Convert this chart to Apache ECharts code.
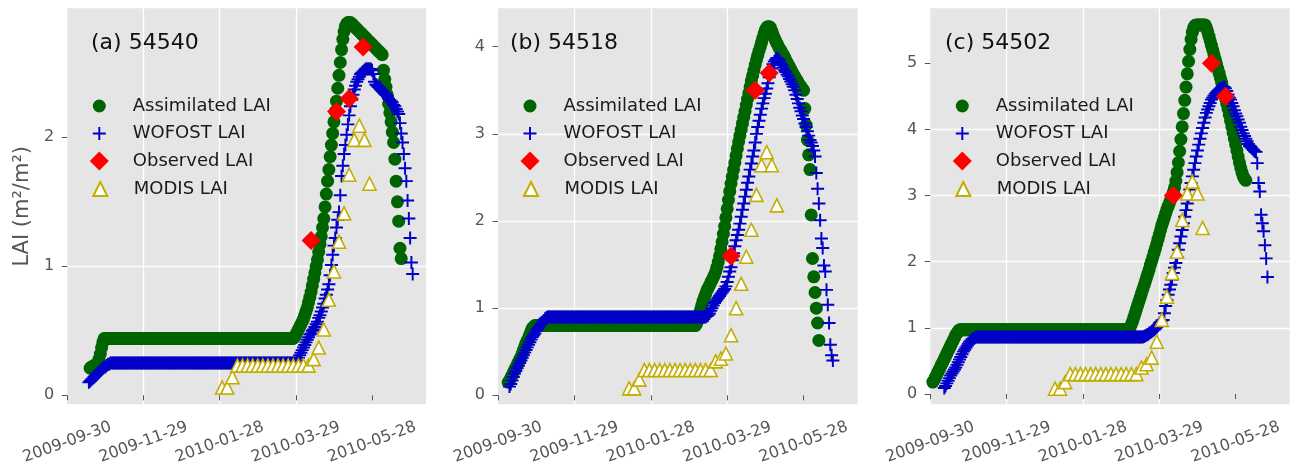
<!DOCTYPE html>
<html>
<head>
<meta charset="utf-8">
<title>LAI at three stations</title>
<script src="https://cdn.jsdelivr.net/npm/echarts@6/dist/echarts.min.js"></script>
<style>
  html, body { margin: 0; padding: 0; background: #ffffff; }
  #chart { width: 1295px; height: 467px; }
</style>
</head>
<body>
<div id="chart"></div>
<script>
// x positions are days counted from the first tick date
const X_ORIGIN = '2009-09-30';
const xTickLabels = ['2009-09-30', '2009-11-29', '2010-01-28', '2010-03-29', '2010-05-28'];
const X_MAX_DAY = 282.5;

const seriesNames = ['Assimilated LAI', 'WOFOST LAI', 'Observed LAI', 'MODIS LAI'];
const panelTitles = ['(a) 54540', '(b) 54518', '(c) 54502'];
const yTickValues = [[0, 1, 2], [0, 1, 2, 3, 4], [0, 1, 2, 3, 4, 5]];
const yExtents = [[-0.07, 3.0], [-0.103, 4.441], [-0.156, 5.831]];
const MODIS_STEP_DAYS = 4;

// ---- station 54540 ----
const a_assimStart = '2009-10-18';
const a_assim = [
  0.21,0.22,0.22,0.23,0.23,0.24,0.25,0.28,0.32,0.37,0.41,0.44,
  0.44,0.44,0.44,0.44,0.44,0.44,0.44,0.44,0.44,0.44,
  0.44,0.44,0.44,0.44,0.44,0.44,0.44,0.44,0.44,0.44,
  0.44,0.44,0.44,0.44,0.44,0.44,0.44,0.44,0.44,0.44,
  0.44,0.44,0.44,0.44,0.44,0.44,0.44,0.44,0.44,0.44,
  0.44,0.44,0.44,0.44,0.44,0.44,0.44,0.44,0.44,0.44,
  0.44,0.44,0.44,0.44,0.44,0.44,0.44,0.44,0.44,0.44,
  0.44,0.44,0.44,0.44,0.44,0.44,0.44,0.44,0.44,0.44,
  0.44,0.44,0.44,0.44,0.44,0.44,0.44,0.44,0.44,0.44,
  0.44,0.44,0.44,0.44,0.44,0.44,0.44,0.44,0.44,0.44,
  0.44,0.44,0.44,0.44,0.44,0.44,0.44,0.44,0.44,0.44,
  0.44,0.44,0.44,0.44,0.44,0.44,0.44,0.44,0.44,0.44,
  0.44,0.44,0.44,0.44,0.44,0.44,0.44,0.44,0.44,0.44,
  0.44,0.44,0.44,0.44,0.44,0.44,0.44,0.44,0.44,0.44,
  0.44,0.44,0.44,0.44,0.44,0.44,0.44,0.44,0.44,0.44,
  0.44,0.44,0.44,0.44,0.44,0.44,0.44,0.44,
  0.44,0.45,0.47,0.49,0.51,0.53,0.55,0.57,0.59,0.62,
  0.65,0.68,0.72,0.76,0.80,0.85,0.90,0.95,1.00,1.05,
  1.11,1.17,1.23,1.30,1.37,1.46,1.56,1.66,1.75,1.85,
  1.94,2.03,2.12,2.20,2.28,2.38,2.48,2.58,2.68,2.76,
  2.82,2.86,2.88,2.89,2.89,2.89,2.88,2.87,2.86,
  2.85,2.84,2.83,2.82,2.81,2.80,2.79,2.78,2.77,2.76,
  2.75,2.74,2.73,2.72,2.71,2.70,2.69,2.68,2.67,2.66,
  2.65,2.64,
  2.52,2.45,2.39,2.33,2.26,2.19,2.12,2.04,1.96,1.83,1.66,1.50,1.35,1.14,1.06
];
const a_wofostStart = '2009-10-17';
const a_wofost = [
  0.10,0.11,0.12,0.13,0.14,0.15,0.16,0.17,0.18,0.19,
  0.20,0.21,0.22,0.22,0.23,0.24,0.24,0.25,
  0.25,0.25,0.25,0.25,0.25,0.25,0.25,0.25,0.25,0.25,
  0.25,0.25,0.25,0.25,0.25,0.25,0.25,0.25,0.25,0.25,
  0.25,0.25,0.25,0.25,0.25,0.25,0.25,0.25,0.25,0.25,
  0.25,0.25,0.25,0.25,0.25,0.25,0.25,0.25,0.25,0.25,
  0.25,0.25,0.25,0.25,0.25,0.25,0.25,0.25,0.25,0.25,
  0.25,0.25,0.25,0.25,0.25,0.25,0.25,0.25,0.25,0.25,
  0.25,0.25,0.25,0.25,0.25,0.25,0.25,0.25,0.25,0.25,
  0.25,0.25,0.25,0.25,0.25,0.25,0.25,0.25,0.25,0.25,
  0.25,0.25,0.25,0.25,0.25,0.25,0.25,0.25,0.25,0.25,
  0.25,0.25,0.25,0.25,0.25,0.25,0.25,0.25,0.25,0.25,
  0.25,0.25,0.25,0.25,0.25,0.25,0.25,0.25,0.25,0.25,
  0.25,0.25,0.25,0.25,0.25,0.25,0.25,0.25,0.25,0.25,
  0.25,0.25,0.25,0.25,0.25,0.25,0.25,0.25,0.25,0.25,
  0.25,0.25,0.25,0.25,0.25,0.25,0.25,0.25,0.25,0.25,
  0.25,0.25,0.25,0.25,0.25,
  0.25,0.27,0.29,0.31,0.33,0.35,0.37,0.39,0.41,0.43,
  0.45,0.47,0.48,0.50,0.51,0.53,0.55,0.57,0.60,0.62,
  0.65,0.68,0.71,0.75,0.78,0.82,0.86,0.93,1.01,1.09,
  1.16,1.22,1.30,1.36,1.42,1.55,1.70,1.78,1.87,1.94,
  2.02,2.10,2.17,2.24,2.29,2.33,2.37,2.40,2.43,2.45,
  2.47,2.49,2.50,2.51,2.52,2.53,2.53,2.53,2.53,2.53,
  2.52,2.49,
  2.43,2.41,2.40,2.39,2.38,2.37,2.36,2.35,2.34,2.33,
  2.32,2.30,2.29,2.28,2.27,2.25,2.24,2.22,2.20,2.18,
  2.11,2.03,1.96,1.87,1.76,1.66,1.51,1.37,1.22,1.03,0.94
];
const a_obsDates = ['2010-04-10', '2010-04-30', '2010-05-10', '2010-05-21'];
const a_obs = [1.2, 2.2, 2.3, 2.7];
const a_modisStart = '2010-01-30';
const a_modis = [
  0.06,0.06,0.14,
  0.23,0.23,0.23,0.23,0.23,0.23,0.23,0.23,0.23,0.23,0.23,0.23,0.23,0.23,
  0.23,0.28,0.37,0.51,0.74,0.96,1.19,1.41,1.71,1.98,2.09,1.98,1.64
];

// ---- station 54518 ----
const b_assimStart = '2009-10-08';
const b_assim = [
  0.15,0.17,0.20,0.23,0.26,0.29,0.32,0.35,0.38,0.41,
  0.44,0.48,0.52,0.56,0.60,0.63,0.66,0.70,0.74,0.77,
  0.79,0.80,
  0.80,0.80,0.80,0.80,0.80,0.80,0.80,0.80,0.80,0.80,
  0.80,0.80,0.80,0.80,0.80,0.80,0.80,0.80,0.80,0.80,
  0.80,0.80,0.80,0.80,0.80,0.80,0.80,0.80,0.80,0.80,
  0.80,0.80,0.80,0.80,0.80,0.80,0.80,0.80,0.80,0.80,
  0.80,0.80,0.80,0.80,0.80,0.80,0.80,0.80,0.80,0.80,
  0.80,0.80,0.80,0.80,0.80,0.80,0.80,0.80,0.80,0.80,
  0.80,0.80,0.80,0.80,0.80,0.80,0.80,0.80,0.80,0.80,
  0.80,0.80,0.80,0.80,0.80,0.80,0.80,0.80,0.80,0.80,
  0.80,0.80,0.80,0.80,0.80,0.80,0.80,0.80,0.80,0.80,
  0.80,0.80,0.80,0.80,0.80,0.80,0.80,0.80,0.80,0.80,
  0.80,0.80,0.80,0.80,0.80,0.80,0.80,0.80,0.80,0.80,
  0.80,0.80,0.80,0.80,0.80,0.80,0.80,0.80,0.80,0.80,
  0.80,0.80,0.80,0.80,0.80,0.80,
  0.82,0.86,0.92,0.98,1.03,1.08,1.12,1.16,1.20,1.23,
  1.26,1.29,1.32,1.35,1.38,1.42,1.47,1.53,1.60,1.68,
  1.76,1.85,1.94,2.04,2.14,2.24,2.34,2.43,2.51,2.59,
  2.67,2.75,2.83,2.91,2.98,3.05,3.12,3.19,3.26,3.33,
  3.40,3.47,3.54,3.61,3.67,3.73,3.79,3.85,3.90,3.95,
  4.00,4.05,4.10,4.15,4.19,4.22,4.23,4.23,4.22,4.18,
  4.14,4.10,4.07,4.04,4.01,3.98,3.96,3.93,3.91,3.88,
  3.85,3.82,3.79,3.77,3.74,3.71,3.68,3.66,3.63,3.61,
  3.58,3.56,3.54,3.52,3.50,3.29,3.10,2.93,2.76,2.59,
  2.07,1.57,1.36,1.18,1.00,0.83,0.63
];
const b_wofostStart = '2009-10-09';
const b_wofost = [
  0.10,0.13,0.17,0.21,0.25,0.28,0.31,0.34,0.37,0.40,
  0.43,0.46,0.49,0.52,0.55,0.58,0.61,0.64,0.67,0.69,
  0.71,0.74,0.76,0.78,0.80,0.82,0.84,0.86,0.88,0.89,
  0.90,
  0.90,0.90,0.90,0.90,0.90,0.90,0.90,0.90,0.90,0.90,
  0.90,0.90,0.90,0.90,0.90,0.90,0.90,0.90,0.90,0.90,
  0.90,0.90,0.90,0.90,0.90,0.90,0.90,0.90,0.90,0.90,
  0.90,0.90,0.90,0.90,0.90,0.90,0.90,0.90,0.90,0.90,
  0.90,0.90,0.90,0.90,0.90,0.90,0.90,0.90,0.90,0.90,
  0.90,0.90,0.90,0.90,0.90,0.90,0.90,0.90,0.90,0.90,
  0.90,0.90,0.90,0.90,0.90,0.90,0.90,0.90,0.90,0.90,
  0.90,0.90,0.90,0.90,0.90,0.90,0.90,0.90,0.90,0.90,
  0.90,0.90,0.90,0.90,0.90,0.90,0.90,0.90,0.90,0.90,
  0.90,0.90,0.90,0.90,0.90,0.90,0.90,0.90,0.90,0.90,
  0.90,0.90,0.90,0.90,0.90,0.90,0.90,0.90,0.90,0.90,
  0.90,0.90,0.90,0.90,0.90,0.90,0.90,0.90,0.90,0.90,
  0.90,0.90,0.90,0.90,
  0.91,0.92,0.94,0.97,1.00,1.03,1.06,1.08,1.10,1.12,
  1.14,1.16,1.18,1.20,1.22,1.25,1.30,1.36,1.42,1.47,
  1.55,1.63,1.71,1.78,1.84,1.90,1.97,2.05,2.13,2.20,
  2.28,2.36,2.44,2.51,2.59,2.66,2.74,2.81,2.90,3.00,
  3.08,3.15,3.22,3.29,3.35,3.41,3.46,3.52,3.58,3.65,
  3.70,3.75,3.80,3.83,3.85,3.87,3.86,3.84,3.81,3.79,
  3.76,3.73,3.71,3.68,3.66,3.63,3.60,3.57,3.54,3.50,
  3.45,3.40,3.35,3.30,3.26,3.21,3.17,3.12,3.08,3.03,
  2.98,2.93,2.90,2.86,2.81,2.74,2.55,2.37,2.20,2.01,
  1.80,1.69,1.49,1.42,1.21,1.04,0.83,0.58,0.46,0.40
];
const b_obsDates = ['2010-04-01', '2010-04-20', '2010-05-01'];
const b_obs = [1.6, 3.5, 3.7];
const b_modisStart = '2010-01-11';
const b_modis = [
  0.08,0.08,0.18,
  0.29,0.29,0.29,0.29,0.29,0.29,0.29,0.29,0.29,0.29,0.29,0.29,0.29,0.29,
  0.39,0.42,0.48,0.69,1.00,1.28,1.59,1.90,2.30,2.64,2.79,2.64,2.18
];

// ---- station 54502 ----
const c_assimStart = '2009-10-02';
const c_assim = [
  0.18,0.21,0.25,0.29,0.33,0.37,0.41,0.45,0.49,0.53,
  0.57,0.61,0.65,0.69,0.73,0.77,0.81,0.85,0.89,0.92,
  0.95,0.97,
  0.97,0.97,0.97,0.97,0.97,0.97,0.97,0.97,0.97,0.97,
  0.97,0.97,0.97,0.97,0.97,0.97,0.97,0.97,0.97,0.97,
  0.97,0.97,0.97,0.97,0.97,0.97,0.97,0.97,0.97,0.97,
  0.97,0.97,0.97,0.97,0.97,0.97,0.97,0.97,0.97,0.97,
  0.97,0.97,0.97,0.97,0.97,0.97,0.97,0.97,0.97,0.97,
  0.97,0.97,0.97,0.97,0.97,0.97,0.97,0.97,0.97,0.97,
  0.97,0.97,0.97,0.97,0.97,0.97,0.97,0.97,0.97,0.97,
  0.97,0.97,0.97,0.97,0.97,0.97,0.97,0.97,0.97,0.97,
  0.97,0.97,0.97,0.97,0.97,0.97,0.97,0.97,0.97,0.97,
  0.97,0.97,0.97,0.97,0.97,0.97,0.97,0.97,0.97,0.97,
  0.97,0.97,0.97,0.97,0.97,0.97,0.97,0.97,0.97,0.97,
  0.97,0.97,0.97,0.97,0.97,0.97,0.97,0.97,0.97,0.97,
  0.97,0.97,0.97,0.97,0.97,0.97,0.97,0.97,0.97,0.97,
  0.97,0.97,0.97,
  1.00,1.05,1.10,1.16,1.22,1.28,1.34,1.40,1.46,1.52,
  1.58,1.64,1.70,1.76,1.82,1.88,1.95,2.01,2.07,2.14,
  2.20,2.27,2.34,2.41,2.48,2.55,2.61,2.67,2.73,2.79,
  2.84,2.89,2.94,2.99,3.05,3.12,3.22,3.35,3.50,3.67,
  3.85,4.04,4.24,4.44,4.64,4.84,5.03,5.21,5.36,5.47,
  5.54,5.57,5.58,5.58,5.58,5.58,5.58,5.58,5.58,5.58,
  5.54,5.48,5.41,5.34,5.27,5.20,5.13,5.06,4.99,4.92,
  4.85,4.78,4.71,4.63,4.55,4.47,4.39,4.31,4.22,4.13,
  4.04,3.95,3.86,3.77,3.68,3.59,3.50,3.42,3.35,3.29,
  3.25,3.23
];
const c_wofostStart = '2009-10-11';
const c_wofost = [
  0.09,0.12,0.16,0.20,0.24,0.28,0.31,0.34,0.37,0.40,
  0.44,0.48,0.52,0.56,0.60,0.64,0.67,0.70,0.73,0.76,
  0.79,0.81,0.83,0.84,0.85,0.86,
  0.86,0.86,0.86,0.86,0.86,0.86,0.86,0.86,0.86,0.86,
  0.86,0.86,0.86,0.86,0.86,0.86,0.86,0.86,0.86,0.86,
  0.86,0.86,0.86,0.86,0.86,0.86,0.86,0.86,0.86,0.86,
  0.86,0.86,0.86,0.86,0.86,0.86,0.86,0.86,0.86,0.86,
  0.86,0.86,0.86,0.86,0.86,0.86,0.86,0.86,0.86,0.86,
  0.86,0.86,0.86,0.86,0.86,0.86,0.86,0.86,0.86,0.86,
  0.86,0.86,0.86,0.86,0.86,0.86,0.86,0.86,0.86,0.86,
  0.86,0.86,0.86,0.86,0.86,0.86,0.86,0.86,0.86,0.86,
  0.86,0.86,0.86,0.86,0.86,0.86,0.86,0.86,0.86,0.86,
  0.86,0.86,0.86,0.86,0.86,0.86,0.86,0.86,0.86,0.86,
  0.86,0.86,0.86,0.86,0.86,0.86,0.86,0.86,0.86,0.86,
  0.86,0.86,0.86,0.86,0.86,0.86,0.86,0.86,0.86,0.86,
  0.86,0.86,0.86,0.86,0.86,0.86,0.86,0.86,0.86,0.86,
  0.86,
  0.87,0.88,0.89,0.90,0.92,0.93,0.94,0.96,0.97,0.99,
  1.01,1.04,1.07,1.09,1.11,1.12,1.22,1.33,1.42,1.50,
  1.58,1.65,1.73,1.83,1.91,1.98,2.07,2.18,2.28,2.38,
  2.48,2.58,2.68,2.78,2.88,2.98,3.09,3.19,3.29,3.39,
  3.49,3.59,3.68,3.77,3.86,3.94,4.02,4.10,4.18,4.25,
  4.30,4.35,4.40,4.45,4.48,4.51,4.54,4.56,4.58,4.60,
  4.61,4.62,4.63,4.64,4.62,4.58,4.53,4.48,4.45,4.40,
  4.35,4.29,4.24,4.20,4.15,4.10,4.04,3.99,3.94,3.90,
  3.86,3.82,3.78,3.75,3.73,3.71,3.69,3.67,3.66,3.49,
  3.19,3.06,2.71,2.58,2.46,2.25,2.05,1.77
];
const c_obsDates = ['2010-04-09', '2010-05-09', '2010-05-20'];
const c_obs = [3.0, 5.0, 4.5];
const c_modisStart = '2010-01-06';
const c_modis = [
  0.08,0.08,0.18,
  0.30,0.30,0.30,0.30,0.30,0.30,0.30,0.30,0.30,0.30,0.30,0.30,0.30,0.30,
  0.40,0.45,0.55,0.79,1.12,1.47,1.83,2.15,2.63,3.03,3.21,3.03,2.51
];

// ---------- helpers ----------
function utcMs(s) {
  const p = s.split('-').map(Number);
  return Date.UTC(p[0], p[1] - 1, p[2]);
}
const ORIGIN_MS = utcMs(X_ORIGIN);
function dayOf(s) { return Math.round((utcMs(s) - ORIGIN_MS) / 86400000); }
function dailyPoints(start, vals) {
  const d0 = dayOf(start);
  return vals.map((v, i) => [d0 + i, v]);
}
function modisPoints(start, vals) {
  const d0 = dayOf(start);
  return vals.map((v, i) => [d0 + i * MODIS_STEP_DAYS, v]);
}
function datedPoints(dates, vals) {
  return dates.map((s, i) => [dayOf(s), vals[i]]);
}

const xTickDays = xTickLabels.map(dayOf);
const xStep = xTickDays[1] - xTickDays[0];

const panels = [
  [dailyPoints(a_assimStart, a_assim), dailyPoints(a_wofostStart, a_wofost),
   datedPoints(a_obsDates, a_obs), modisPoints(a_modisStart, a_modis)],
  [dailyPoints(b_assimStart, b_assim), dailyPoints(b_wofostStart, b_wofost),
   datedPoints(b_obsDates, b_obs), modisPoints(b_modisStart, b_modis)],
  [dailyPoints(c_assimStart, c_assim), dailyPoints(c_wofostStart, c_wofost),
   datedPoints(c_obsDates, c_obs), modisPoints(c_modisStart, c_modis)]
];

// ---------- look ----------
const FONT = 'DejaVu Sans';
const TICK_GREY = '#555555';
const PLUS = 'path://M8.5,0H11.5V8.5H20V11.5H11.5V20H8.5V11.5H0V8.5H8.5Z';
const markerStyles = [
  { symbol: 'circle', symbolSize: 13, itemStyle: { color: '#006400', opacity: 1 } },
  { symbol: PLUS, symbolSize: 13, itemStyle: { color: '#0000c8', opacity: 1 } },
  { symbol: 'diamond', symbolSize: 19, itemStyle: { color: '#ff0000', opacity: 1 } },
  { symbol: 'triangle', symbolSize: 13,
    itemStyle: { color: '#ffffff', borderColor: '#c2ad00', borderWidth: 1.6, opacity: 1 } }
];
const legendIconSizes = [13, 13, 19, 14];
const legendRowCenters = [106, 133.5, 161, 189];
const LEGEND_ICON_X = 32;   // icon centre, from the plot's left edge
const LEGEND_TEXT_X = 65.5; // text start, from the plot's left edge

const gridRects = [
  { left: 67.3, top: 8.3, width: 358.7, height: 396 },
  { left: 498, top: 8.3, width: 359.7, height: 396 },
  { left: 930.3, top: 8.3, width: 359.4, height: 396 }
];
const titleLefts = [91, 510, 945];

const grid = [], xAxis = [], yAxis = [], series = [], legend = [], title = [];

gridRects.forEach((r, i) => {
  grid.push(Object.assign({
    show: true, backgroundColor: '#E5E5E5', borderWidth: 0,
    containLabel: false, outerBoundsMode: 'none'
  }, r));

  xAxis.push({
    gridIndex: i, type: 'value', min: 0, max: X_MAX_DAY,
    minInterval: xStep, maxInterval: xStep,
    axisLine: { show: false },
    axisTick: { show: true, length: 5, customValues: xTickDays,
      lineStyle: { color: TICK_GREY, width: 1 } },
    axisLabel: {
      customValues: xTickDays,
      formatter: v => { const k = xTickDays.indexOf(v); return k >= 0 ? xTickLabels[k] : ''; },
      rotate: 20, align: 'center', verticalAlign: 'middle', margin: 38,
      fontSize: 16, color: TICK_GREY, fontFamily: FONT
    },
    splitLine: { show: true, showMinLine: false, showMaxLine: false,
      lineStyle: { color: '#ffffff', width: 1.3 } }
  });

  const ticks = yTickValues[i];
  yAxis.push({
    gridIndex: i, type: 'value', min: yExtents[i][0], max: yExtents[i][1],
    minInterval: 1, maxInterval: 1,
    axisLine: { show: false },
    axisTick: { show: true, length: 5.5, customValues: ticks,
      lineStyle: { color: TICK_GREY, width: 1 } },
    axisLabel: {
      customValues: ticks,
      formatter: v => (ticks.indexOf(v) >= 0 ? String(v) : ''),
      margin: 13, fontSize: 16, color: TICK_GREY, fontFamily: FONT
    },
    splitLine: { show: true, showMinLine: false, showMaxLine: false,
      lineStyle: { color: '#ffffff', width: 1.3 } },
    name: i === 0 ? 'LAI (m\u00b2/m\u00b2)' : '',
    nameLocation: 'middle', nameGap: 34,
    nameTextStyle: { fontSize: 21, color: TICK_GREY, fontFamily: FONT }
  });

  panels[i].forEach((pts, k) => {
    series.push(Object.assign({
      type: 'scatter', name: seriesNames[k], xAxisIndex: i, yAxisIndex: i,
      data: pts, silent: true, clip: true, animation: false
    }, markerStyles[k]));
  });

  seriesNames.forEach((name, k) => {
    const s = legendIconSizes[k];
    legend.push({
      left: r.left + LEGEND_ICON_X - s / 2,
      top: legendRowCenters[k] - Math.max(s, 18) / 2,
      orient: 'vertical', padding: 0, itemWidth: s, itemHeight: s,
      selectedMode: false,
      data: [name],
      textStyle: {
        fontSize: 18, color: '#1a1a1a', fontFamily: FONT,
        padding: [0, 0, 0, LEGEND_TEXT_X - LEGEND_ICON_X - s / 2 - 5]
      }
    });
  });

  title.push({
    text: panelTitles[i], left: titleLefts[i], top: 32, padding: 0,
    textStyle: { fontSize: 22, fontWeight: 'normal', color: '#111111', fontFamily: FONT }
  });
});

const chart = echarts.init(document.getElementById('chart'), null, { renderer: 'canvas' });
chart.setOption({
  animation: false,
  backgroundColor: '#ffffff',
  textStyle: { fontFamily: FONT },
  title, legend, grid, xAxis, yAxis, series
});
</script>
</body>
</html>
